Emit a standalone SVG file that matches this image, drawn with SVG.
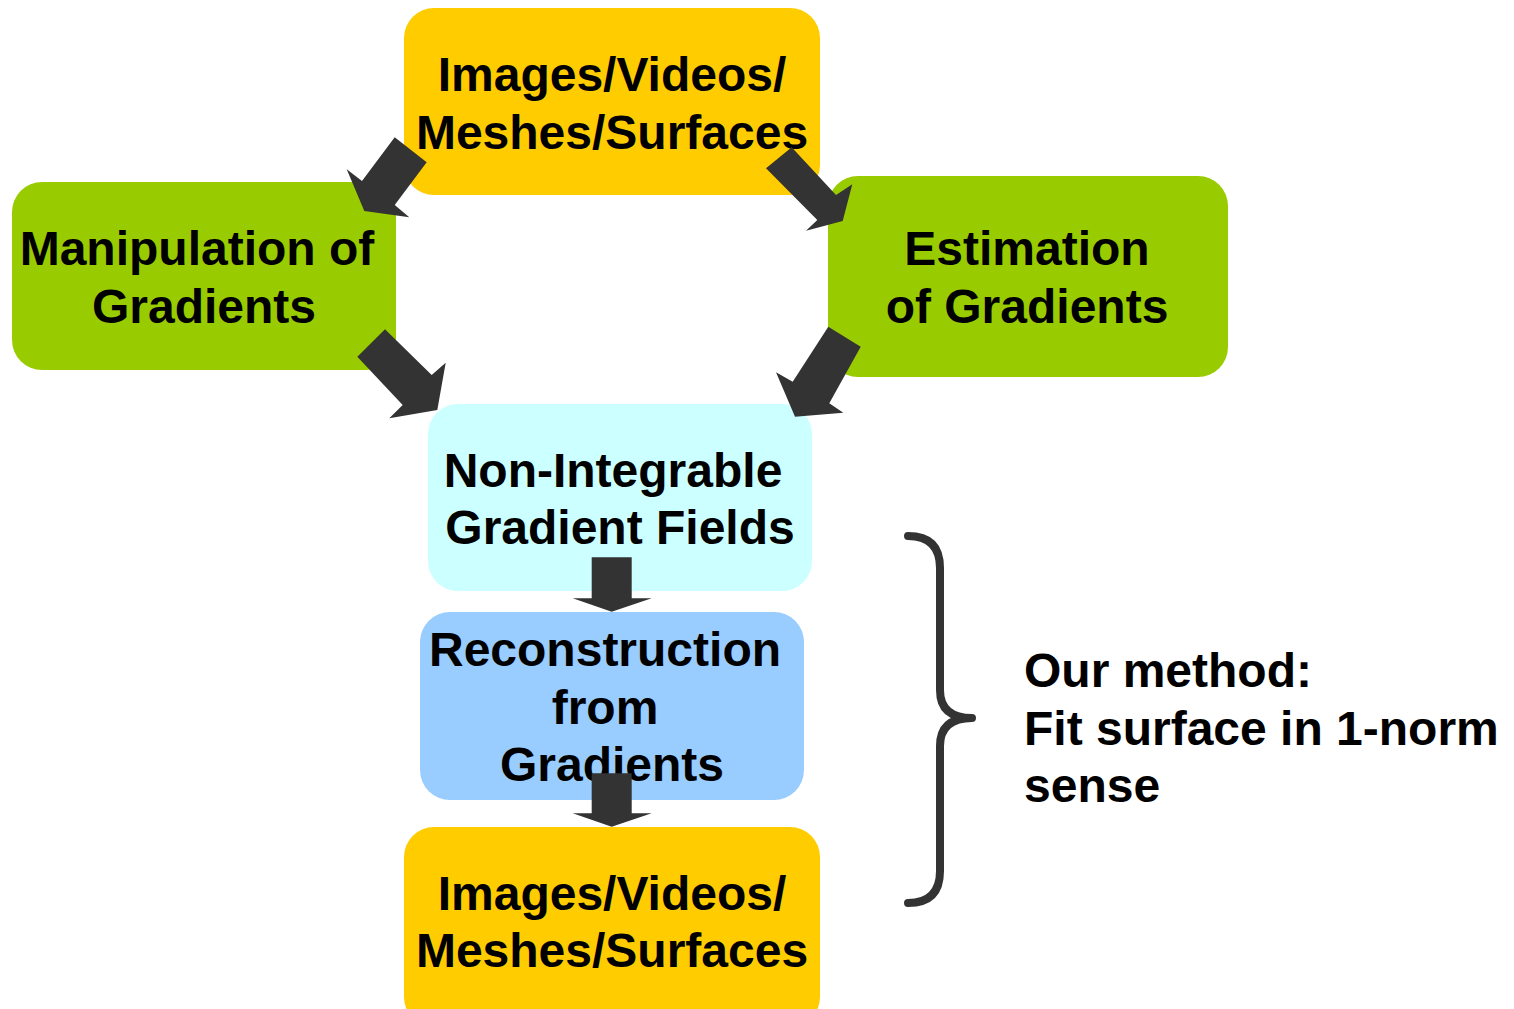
<svg xmlns="http://www.w3.org/2000/svg" width="1514" height="1009" viewBox="0 0 1514 1009">
<style>
text{font-family:"Liberation Sans",Arial,sans-serif;font-weight:bold;font-size:48px;fill:#000}
.c{text-anchor:middle}
.arr{fill:#333333}
.y{fill:#FFCC00}.g{fill:#99CC00}.cy{fill:#CCFFFF}.b{fill:#99CCFF}
</style>
<rect width="1514" height="1009" fill="#ffffff"/>
<g id="node-top">
<rect class="y" x="404" y="8" width="416" height="187" rx="30"/>
<text class="c" x="612" y="91">Images/Videos/</text>
<text class="c" x="612" y="149">Meshes/Surfaces</text>
</g>
<g id="node-manip">
<rect class="g" x="12" y="182" width="384" height="188" rx="30"/>
<text class="c" x="197" y="265">Manipulation of</text>
<text class="c" x="204" y="323">Gradients</text>
</g>
<g id="node-estim">
<rect class="g" x="828" y="176" width="400" height="201" rx="30"/>
<text class="c" x="1027" y="265">Estimation</text>
<text class="c" x="1027" y="323">of Gradients</text>
</g>
<g id="node-nonint">
<rect class="cy" x="428" y="404" width="384" height="187" rx="30"/>
<text class="c" x="613" y="487">Non-Integrable</text>
<text class="c" x="620" y="544">Gradient Fields</text>
</g>
<g id="node-recon">
<rect class="b" x="420" y="612" width="384" height="188" rx="30"/>
<text class="c" x="605" y="666">Reconstruction</text>
<text class="c" x="605" y="724">from</text>
<text class="c" x="612" y="781">Gradients</text>
</g>
<g id="node-bottom">
<rect class="y" x="404" y="827" width="416" height="200" rx="30"/>
<text class="c" x="612" y="910">Images/Videos/</text>
<text class="c" x="612" y="967">Meshes/Surfaces</text>
</g>
<g id="connectors">
<polygon class="arr" points="394.7,137.3 426.7,162.3 394.7,205 409.3,217.3 364.3,211 346.7,169.3 362,181"/>
<polygon class="arr" points="791.7,147.3 766,168.3 817.3,220 806,230.7 842.7,221 852.3,184.3 836,195"/>
<polygon class="arr" points="385,329.3 357.3,356.7 402.7,405 389.3,418.3 437.3,410 445.7,362.7 431.7,375"/>
<polygon class="arr" points="828.3,326.7 860.7,346.7 829.3,403.3 843.3,412.7 795,416.7 776,372.3 792.7,381.7"/>
<polygon class="arr" points="591.7,557.3 631.7,557.3 631.7,598.3 651.7,598.3 611.7,611.7 572.7,598.3 591.7,598.3"/>
<polygon class="arr" points="591.7,773.3 631.7,773.3 631.7,813.3 651.7,813.3 611.7,826.7 572.7,813.3 591.7,813.3"/>
</g>
<g id="brace">
<path d="M908,536 Q940,536 940,568 L940,690 Q940,718 972,718 Q940,718 940,746 L940,871 Q940,903 908,903" fill="none" stroke="#333333" stroke-width="8" stroke-linecap="round" stroke-linejoin="round"/>
</g>
<g id="note">
<text x="1024" y="687">Our method:</text>
<text x="1024" y="745">Fit surface in 1-norm</text>
<text x="1024" y="802">sense</text>
</g>
</svg>
